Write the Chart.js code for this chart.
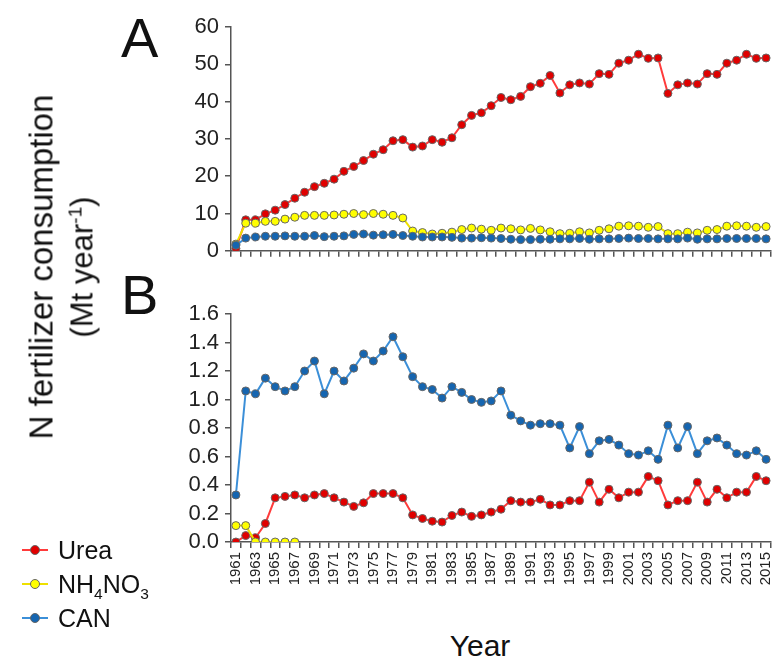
<!DOCTYPE html>
<html>
<head>
<meta charset="utf-8">
<script src="https://cdn.jsdelivr.net/npm/chart.js@4.4.1/dist/chart.umd.min.js"></script>
<style>
  body { margin: 0; background: #fff; font-family: "Liberation Sans", Arial, sans-serif; color: #111; }
  #wrap { position: relative; width: 776px; height: 657px; overflow: hidden; }
  #boxA { position: absolute; left: 0; top: 0; width: 776px; height: 270px; }
  #boxB { position: absolute; left: 0; top: 280px; width: 776px; height: 345px; }
  .panel { position: absolute; font-size: 56px; line-height: 1; }
  .ytitle { position: absolute; left: 62px; top: 267px; transform: translate(-50%, -50%) rotate(-90deg);
            font-size: 33px; line-height: 40px; text-align: center; white-space: nowrap; }
  .ytitle .l2 { font-size: 31px; }
  .xtitle { position: absolute; left: 480px; top: 629px; transform: translateX(-50%); font-size: 30px; }
  .legend { position: absolute; left: 20px; top: 535px; font-size: 25px; }
  .legend div { height: 34px; line-height: 30px; position: relative; padding-left: 38px; }
  .legend .ln { position: absolute; left: 2px; top: 14px; width: 26px; height: 2px; }
  .legend .dt { position: absolute; left: 10px; top: 10px; width: 8px; height: 8px; border-radius: 50%; border: 1px solid #666; }
  sub, sup { font-size: 62%; line-height: 0; }
</style>
</head>
<body>
<div id="wrap">
  <div id="boxA"><canvas id="chartA"></canvas></div>
  <div id="boxB"><canvas id="chartB"></canvas></div>
  <div class="panel" style="left:121px; top:10px;">A</div>
  <div class="panel" style="left:121px; top:267px;">B</div>
  <div class="ytitle">N fertilizer consumption<br><span class="l2">(Mt year<sup>-1</sup>)</span></div>
  <div class="xtitle">Year</div>
  <div class="legend">
    <div><span class="ln" style="background:#ff3b3b"></span><span class="dt" style="background:#e00000"></span>Urea</div>
    <div><span class="ln" style="background:#eee000"></span><span class="dt" style="background:#ffff00"></span>NH<sub>4</sub>NO<sub>3</sub></div>
    <div><span class="ln" style="background:#3b8fd8"></span><span class="dt" style="background:#1565b0"></span>CAN</div>
  </div>
</div>
<script>
const years = [1961, 1962, 1963, 1964, 1965, 1966, 1967, 1968, 1969, 1970,
    1971, 1972, 1973, 1974, 1975, 1976, 1977, 1978, 1979, 1980,
    1981, 1982, 1983, 1984, 1985, 1986, 1987, 1988, 1989, 1990,
    1991, 1992, 1993, 1994, 1995, 1996, 1997, 1998, 1999, 2000,
    2001, 2002, 2003, 2004, 2005, 2006, 2007, 2008, 2009, 2010,
    2011, 2012, 2013, 2014, 2015];

// panel A, Mt/year
const ureaA = [0.6, 8.3, 8.3, 9.9, 10.9, 12.4, 14.1, 15.7, 17.2, 18.1,
    19.2, 21.3, 22.6, 24.2, 25.9, 27.1, 29.5, 29.8, 27.8, 28.1,
    29.8, 29.1, 30.3, 33.8, 36.3, 37.0, 38.9, 41.1, 40.5, 41.4,
    44.0, 44.9, 47.0, 42.3, 44.5, 45.0, 44.7, 47.5, 47.3, 50.3,
    51.1, 52.7, 51.6, 51.7, 42.2, 44.5, 45.0, 44.7, 47.5, 47.3,
    50.3, 51.1, 52.7, 51.6, 51.7];
const nh4no3A = [1.8, 7.4, 7.4, 7.9, 7.9, 8.5, 9.0, 9.5, 9.5, 9.5,
    9.6, 9.8, 10.0, 9.7, 10.0, 9.8, 9.5, 8.8, 5.3, 4.9,
    4.5, 4.7, 5.0, 5.7, 6.1, 5.8, 5.5, 6.1, 5.9, 5.6,
    6.0, 5.6, 5.1, 4.6, 4.7, 5.1, 4.8, 5.5, 5.9, 6.6,
    6.7, 6.6, 6.3, 6.5, 4.6, 4.6, 5.0, 4.8, 5.5, 5.7,
    6.6, 6.7, 6.6, 6.3, 6.5];
const canA = [1.5, 3.4, 3.7, 3.9, 3.9, 4.0, 3.9, 3.9, 4.1, 3.8,
    3.9, 4.0, 4.4, 4.5, 4.2, 4.3, 4.4, 4.1, 3.9, 3.7,
    3.7, 3.7, 3.6, 3.4, 3.4, 3.5, 3.4, 3.3, 3.1, 3.0,
    3.0, 3.1, 3.1, 3.2, 3.2, 3.3, 3.1, 3.2, 3.2, 3.3,
    3.4, 3.3, 3.3, 3.2, 3.2, 3.2, 3.4, 3.1, 3.2, 3.2,
    3.3, 3.3, 3.3, 3.3, 3.2];

// panel B, Mt/year
const ureaB = [0.0, 0.045, 0.03, 0.13, 0.31, 0.32, 0.33, 0.31, 0.33, 0.34,
    0.31, 0.28, 0.25, 0.275, 0.34, 0.34, 0.34, 0.31, 0.19, 0.165,
    0.146, 0.14, 0.186, 0.21, 0.18, 0.19, 0.21, 0.23, 0.29, 0.28,
    0.28, 0.30, 0.26, 0.26, 0.29, 0.29, 0.42, 0.28, 0.37, 0.31,
    0.35, 0.35, 0.46, 0.43, 0.26, 0.29, 0.29, 0.42, 0.28, 0.37,
    0.31, 0.35, 0.35, 0.46, 0.43];
const nh4no3B = [0.115, 0.115, 0.0, 0.0, 0.0, 0.0, 0.0];
const canB = [0.33, 1.06, 1.04, 1.15, 1.09, 1.06, 1.09, 1.20, 1.27, 1.04,
    1.20, 1.13, 1.22, 1.32, 1.27, 1.34, 1.44, 1.30, 1.16, 1.09,
    1.07, 1.01, 1.09, 1.05, 1.00, 0.98, 0.99, 1.06, 0.89, 0.85,
    0.82, 0.83, 0.83, 0.82, 0.66, 0.81, 0.62, 0.71, 0.72, 0.68,
    0.62, 0.61, 0.64, 0.58, 0.82, 0.66, 0.81, 0.62, 0.71, 0.73,
    0.68, 0.62, 0.61, 0.64, 0.58];

const axisColor = "#555";
const tickFont = {family: "'Liberation Sans', Arial, sans-serif", size: 22};

const series = (label, data, line, fill) => ({
    label: label,
    data: data,
    borderColor: line,
    borderWidth: 2,
    pointRadius: 4,
    pointHoverRadius: 4,
    pointBackgroundColor: fill,
    pointBorderColor: "#666",
    pointBorderWidth: 1,
    tension: 0,
    spanGaps: false
});

const makeChart = (id, datasets, yMax, yStep, yDecimals, showYears, topPad, xHeight) => {
    new Chart(document.getElementById(id), {
        type: 'line',
        data: {labels: years, datasets: datasets},
        options: {
            responsive: true,
            maintainAspectRatio: false,
            animation: false,
            layout: {padding: {top: topPad, right: 5, left: 0, bottom: 0}},
            plugins: {legend: {display: false}, tooltip: {enabled: false}},
            scales: {
                x: {
                    offset: true,
                    grid: {display: true, offset: true, drawOnChartArea: false, drawTicks: true,
                        tickLength: 6, color: axisColor, lineWidth: 1.5},
                    border: {display: true, color: axisColor, width: 1.5},
                    ticks: {
                        display: showYears,
                        autoSkip: false,
                        maxRotation: 90,
                        minRotation: 90,
                        padding: 4,
                        color: "#222",
                        font: {family: tickFont.family, size: 15},
                        callback: function(value, index) {
                            return index % 2 == 0 ? years[index] : "";
                        }
                    },
                    afterFit: function(scale) {
                        scale.height = xHeight;
                        scale.paddingLeft = 0;
                        scale.paddingRight = 0;
                    }
                },
                y: {
                    min: 0,
                    max: yMax,
                    grid: {display: true, drawOnChartArea: false, drawTicks: true,
                        tickLength: 6, color: axisColor, lineWidth: 1.5},
                    border: {display: true, color: axisColor, width: 1.5},
                    ticks: {
                        stepSize: yStep,
                        autoSkip: false,
                        padding: 6,
                        color: "#222",
                        font: tickFont,
                        callback: function(value) { return value.toFixed(yDecimals); }
                    },
                    afterFit: function(scale) { scale.width = 231; }
                }
            }
        }
    });
}

makeChart("chartA", [
    series("CAN", canA, "#3b8fd8", "#1565b0"),
    series("NH4NO3", nh4no3A, "#eee000", "#ffff00"),
    series("Urea", ureaA, "#ff3b3b", "#e00000")
], 60, 10, 0, false, 27, 15);

makeChart("chartB", [
    series("CAN", canB, "#3b8fd8", "#1565b0"),
    series("NH4NO3", nh4no3B, "#eee000", "#ffff00"),
    series("Urea", ureaB, "#ff3b3b", "#e00000")
], 1.6, 0.2, 1, true, 34, 83);
</script>
</body>
</html>
